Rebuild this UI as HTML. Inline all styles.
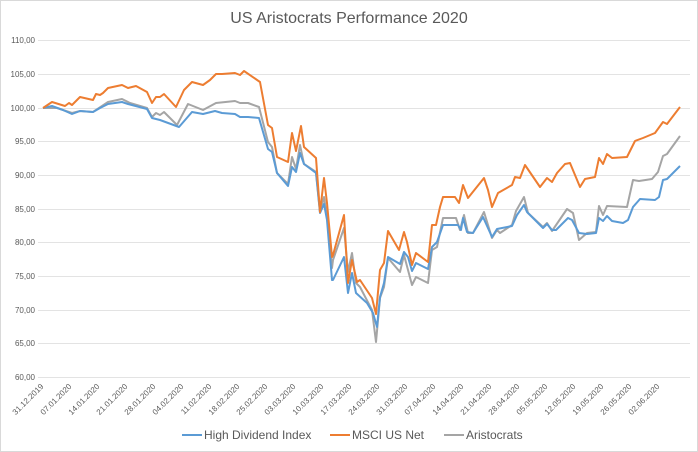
<!DOCTYPE html>
<html><head><meta charset="utf-8"><style>
body{margin:0;background:#fff}
svg{display:block;font-family:"Liberation Sans",sans-serif}
</style></head><body>
<svg width="698" height="452" viewBox="0 0 698 452">
<rect x="0.5" y="0.5" width="697" height="451" fill="#fff" stroke="#d9d9d9"/>
<text x="349" y="23" text-anchor="middle" font-size="16" fill="#595959">US Aristocrats Performance 2020</text>
<g stroke="#e3e3e3" stroke-width="1">
<line x1="38" x2="690" y1="40.5" y2="40.5"/><line x1="38" x2="690" y1="74.5" y2="74.5"/>
<line x1="38" x2="690" y1="108.5" y2="108.5"/><line x1="38" x2="690" y1="141.5" y2="141.5"/>
<line x1="38" x2="690" y1="175.5" y2="175.5"/><line x1="38" x2="690" y1="209.5" y2="209.5"/>
<line x1="38" x2="690" y1="242.5" y2="242.5"/><line x1="38" x2="690" y1="276.5" y2="276.5"/>
<line x1="38" x2="690" y1="310.5" y2="310.5"/><line x1="38" x2="690" y1="343.5" y2="343.5"/>
<line x1="38" x2="690" y1="377.5" y2="377.5"/>
</g>
<g font-size="8" fill="#595959" text-anchor="end">
<text x="35" y="43">110,00</text><text x="35" y="77">105,00</text><text x="35" y="111">100,00</text>
<text x="35" y="144">95,00</text><text x="35" y="178">90,00</text><text x="35" y="212">85,00</text>
<text x="35" y="245">80,00</text><text x="35" y="279">75,00</text><text x="35" y="313">70,00</text>
<text x="35" y="346">65,00</text><text x="35" y="380">60,00</text>
</g>
<g font-size="8" fill="#595959" text-anchor="end">
<text transform="translate(44,387) rotate(-45)">31.12.2019</text>
<text transform="translate(72,387) rotate(-45)">07.01.2020</text>
<text transform="translate(100,387) rotate(-45)">14.01.2020</text>
<text transform="translate(128,387) rotate(-45)">21.01.2020</text>
<text transform="translate(156,387) rotate(-45)">28.01.2020</text>
<text transform="translate(184,387) rotate(-45)">04.02.2020</text>
<text transform="translate(212,387) rotate(-45)">11.02.2020</text>
<text transform="translate(240,387) rotate(-45)">18.02.2020</text>
<text transform="translate(268,387) rotate(-45)">25.02.2020</text>
<text transform="translate(296,387) rotate(-45)">03.03.2020</text>
<text transform="translate(324,387) rotate(-45)">10.03.2020</text>
<text transform="translate(352,387) rotate(-45)">17.03.2020</text>
<text transform="translate(380,387) rotate(-45)">24.03.2020</text>
<text transform="translate(408,387) rotate(-45)">31.03.2020</text>
<text transform="translate(436,387) rotate(-45)">07.04.2020</text>
<text transform="translate(464,387) rotate(-45)">14.04.2020</text>
<text transform="translate(492,387) rotate(-45)">21.04.2020</text>
<text transform="translate(520,387) rotate(-45)">28.04.2020</text>
<text transform="translate(548,387) rotate(-45)">05.05.2020</text>
<text transform="translate(576,387) rotate(-45)">12.05.2020</text>
<text transform="translate(604,387) rotate(-45)">19.05.2020</text>
<text transform="translate(632,387) rotate(-45)">26.05.2020</text>
<text transform="translate(660,387) rotate(-45)">02.06.2020</text>
</g>
<g fill="none" stroke-width="2" stroke-linejoin="round">
<polyline stroke="#a5a5a5" points="43,108 57,108 72,113 80,111 93,112 108,102 122,99 130,103 147,108 152,117 156,113 160,115 164,112 177,125 188,104 203,110 216,103 235,101 240,103 248,103 259,107 268,142 272,147 277,173 288,184 292,157 296,169 300,145 304,164 316,172 320,212 324,197 327,217 332,268 333,260 344,228 348,272 352,253 356,283 360,287 372,310 376,342 380,298 384,287 388,258 400,272 404,255 412,285 416,277 428,283 432,250 437,247 443,218 456,218 460,230 464,215 468,233 473,233 484,212 492,238 497,230 500,233 512,225 516,211 524,197 528,213 543,227 547,223 552,231 567,209 573,213 579,240 587,233 596,232 599,206 603,215 607,206 627,207 633,180 639,181 652,179 658,172 663,156 667,154 680,136"/>
<polyline stroke="#5b9bd5" points="43,108 52,106 63,110 72,114 80,111 93,112 100,108 108,104 122,102 128,104 147,109 152,118 160,120 179,127 192,112 203,114 215,111 222,113 235,114 240,117 248,117 259,118 268,149 272,152 277,173 288,186 292,167 296,172 300,153 304,164 316,173 320,213 324,204 327,220 332,280 333,280 344,257 348,293 352,273 356,293 367,303 373,313 377,327 380,297 384,283 388,257 400,264 404,252 408,257 412,271 416,263 428,269 432,247 437,242 443,225 458,225 461,230 463,218 467,232 473,233 483,217 492,237 497,229 512,226 517,215 524,205 527,212 543,228 547,224 552,230 556,230 568,218 572,220 579,233 587,234 596,233 599,218 603,221 607,216 612,221 623,223 628,220 633,207 640,199 655,200 659,197 663,180 667,179 680,166"/>
<polyline stroke="#ed7d31" points="43,108 52,102 65,106 69,103 72,105 80,97 93,100 96,94 100,95 103,93 108,88 122,85 128,88 136,86 147,92 152,103 156,97 160,97 164,94 176,107 184,90 192,82 203,85 210,80 216,74 222,74 235,73 240,75 244,71 260,82 268,125 272,128 277,157 288,162 292,133 296,151 301,126 304,147 316,158 320,212 324,178 327,203 332,257 333,255 344,215 348,283 352,260 357,282 360,280 372,298 376,314 380,270 384,263 388,231 399,250 404,232 407,242 412,265 416,253 428,262 432,225 436,225 440,207 443,197 455,197 459,203 463,185 468,198 484,178 488,190 492,207 498,193 512,185 515,177 520,178 525,165 540,187 547,178 552,182 557,173 565,164 570,163 580,187 585,179 595,177 599,158 603,164 607,154 612,158 627,157 635,141 643,138 655,133 663,122 667,124 680,107"/>
</g>
<g font-size="12" fill="#595959">
<line x1="182" x2="202" y1="435" y2="435" stroke="#5b9bd5" stroke-width="2"/>
<text x="204" y="439">High Dividend Index</text>
<line x1="330" x2="350" y1="435" y2="435" stroke="#ed7d31" stroke-width="2"/>
<text x="352" y="439">MSCI US Net</text>
<line x1="444" x2="464" y1="435" y2="435" stroke="#a5a5a5" stroke-width="2"/>
<text x="466" y="439">Aristocrats</text>
</g>
</svg>
</body></html>
